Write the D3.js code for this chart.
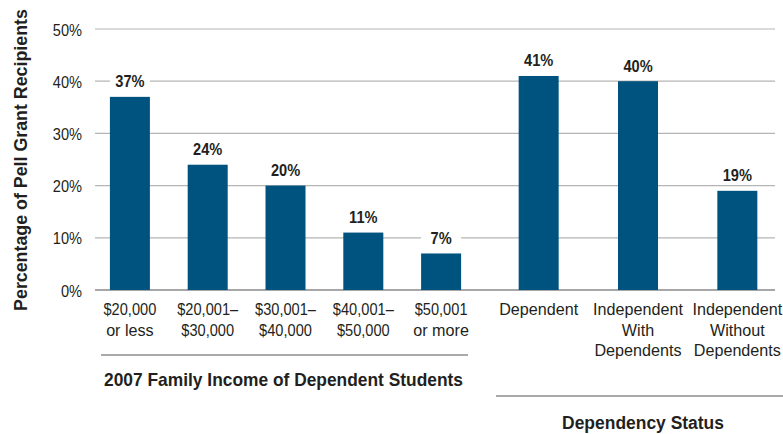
<!DOCTYPE html>
<html>
<head>
<meta charset="utf-8">
<script src="https://cdn.jsdelivr.net/npm/d3@7"></script>
<style>
  html, body { margin: 0; padding: 0; background: #fff; }
  svg { display: block; }
  text { font-family: "Liberation Sans", Arial, sans-serif; fill: #231f20; }
</style>
</head>
<body>
<svg id="chart" width="783" height="434"></svg>
<script>
// Income groups of dependent students
const incomeCategories = [["$20,000", "or less"], ["$20,001–", "$30,000"], ["$30,001–", "$40,000"], ["$40,001–", "$50,000"], ["$50,001", "or more"]];
const incomeValues = [37, 24, 20, 11, 7];
// Dependency status groups
const statusCategories = [["Dependent"], ["Independent", "With", "Dependents"], ["Independent", "Without", "Dependents"]];
const statusValues = [41, 40, 19];
const yTicks = [0, 10, 20, 30, 40, 50];
const yTitle = "Percentage of Pell Grant Recipients";
const incomeTitle = "2007 Family Income of Dependent Students";
const statusTitle = "Dependency Status";

const svg = d3.select("#chart");
const barColor = "#00527f";
const barW = 40;
// condensed look: figures are squeezed a little more than words
const squeezeNum = "scale(0.86,1)";
const squeezeWord = "scale(0.95,1)";
const squeezeFor = s => /^[\$\d]/.test(s) ? squeezeNum : squeezeWord;

const y = d3.scaleLinear().domain([0, 50]).range([290, 29]);
const xLeft = d3.scalePoint().domain(d3.range(incomeValues.length)).range([91, 480]).padding(0.5);
const xRight = d3.scalePoint().domain(d3.range(statusValues.length)).range([489, 787]).padding(0.5);

// gridlines
svg.append("g").selectAll("line").data(yTicks.filter(d => d > 0)).join("line")
  .attr("x1", 95).attr("x2", 775)
  .attr("y1", d => y(d)).attr("y2", d => y(d))
  .attr("stroke", "#b5b5b5").attr("stroke-width", 1.2);

// tick labels
const yAxis = d3.axisLeft(y).tickValues(yTicks).tickSize(0).tickPadding(0).tickFormat(d => d + "%");
const gAxis = svg.append("g").attr("transform", "translate(82,0)").call(yAxis);
gAxis.select(".domain").remove();
gAxis.attr("font-family", null).attr("font-size", null);
gAxis.selectAll("text").attr("x", 0).attr("dy", "0.36em").attr("font-size", 17).attr("transform", squeezeNum);

// baseline
svg.append("line").attr("x1", 95).attr("x2", 775).attr("y1", y(0)).attr("y2", y(0))
  .attr("stroke", "#8a8a8a").attr("stroke-width", 1.5);

function drawGroup(cats, vals, x) {
  const g = svg.append("g");
  g.selectAll("rect").data(vals).join("rect")
    .attr("x", (d, i) => x(i) - barW / 2)
    .attr("width", barW)
    .attr("y", d => y(d))
    .attr("height", d => y(0) - y(d))
    .attr("fill", barColor);
  // value labels on white backing so gridlines break behind them
  const lab = g.selectAll("g.val").data(vals).join("g").attr("class", "val")
    .attr("transform", (d, i) => `translate(${x(i)},${y(d) - 9.5})`);
  lab.append("rect").attr("x", -20).attr("y", -15).attr("width", 40).attr("height", 18).attr("fill", "#fff");
  lab.append("text").attr("text-anchor", "middle").attr("font-size", 17).attr("font-weight", "bold")
    .attr("transform", squeezeNum).text(d => d + "%");
  // category labels, one text per line
  g.selectAll("g.cat").data(cats).join("g").attr("class", "cat")
    .attr("transform", (d, i) => `translate(${x(i)},315)`)
    .selectAll("text").data(d => d).join("text")
    .attr("text-anchor", "middle").attr("font-size", 17)
    .attr("transform", (d, j) => `translate(0,${j * 20.5}) ${squeezeFor(d)}`)
    .text(d => d);
}
drawGroup(incomeCategories, incomeValues, xLeft);
drawGroup(statusCategories, statusValues, xRight);

// bold text squeezed horizontally to a target width
function fitText(sel, width) {
  const len = sel.node().getComputedTextLength();
  return Math.min(1, width / len);
}

// group separators and titles
svg.append("line").attr("x1", 101).attr("x2", 468).attr("y1", 355).attr("y2", 355)
  .attr("stroke", "#555").attr("stroke-width", 1.2);
const t1 = svg.append("text").attr("text-anchor", "middle")
  .attr("font-size", 18.5).attr("font-weight", "bold").text(incomeTitle);
t1.attr("transform", `translate(283.5,386) scale(${fitText(t1, 359)},1)`);

svg.append("line").attr("x1", 496).attr("x2", 783).attr("y1", 396).attr("y2", 396)
  .attr("stroke", "#555").attr("stroke-width", 1.2);
const t2 = svg.append("text").attr("text-anchor", "middle")
  .attr("font-size", 18.5).attr("font-weight", "bold").text(statusTitle);
t2.attr("transform", `translate(643,429) scale(${fitText(t2, 162)},1)`);

// y axis title
const t3 = svg.append("text").attr("text-anchor", "middle")
  .attr("font-size", 19).attr("font-weight", "bold").text(yTitle);
t3.attr("transform", `translate(27,160) rotate(-90) scale(${fitText(t3, 302)},1)`);
</script>
</body>
</html>
